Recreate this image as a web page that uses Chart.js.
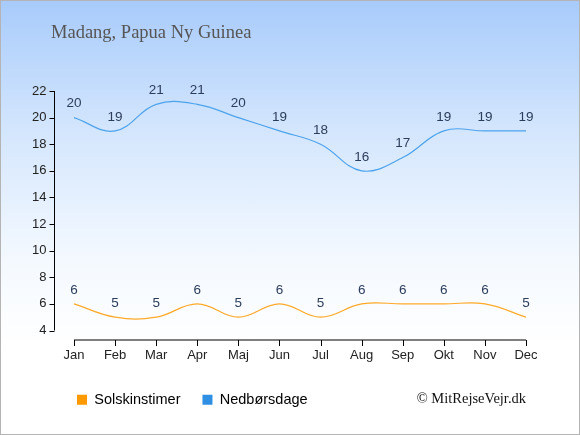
<!DOCTYPE html>
<html>
<head>
<meta charset="utf-8">
<script src="https://cdn.jsdelivr.net/npm/chart.js@4.4.1/dist/chart.umd.min.js"></script>
<style>
  html, body { margin: 0; padding: 0; }
  #wrap {
    position: relative;
    width: 578px;
    height: 433px;
    border: 1px solid #b4b4b4;
    background: linear-gradient(to bottom, #a8cbfb 0%, #d4e6fd 30%, #f4f9ff 60%, #ffffff 80%, #ffffff 100%);
  }
</style>
</head>
<body>
<div id="wrap"><canvas id="chart" width="578" height="433"></canvas></div>
<script>
const chartTitle = 'Madang, Papua Ny Guinea';
const months = ['Jan', 'Feb', 'Mar', 'Apr', 'Maj', 'Jun', 'Jul', 'Aug', 'Sep', 'Okt', 'Nov', 'Dec'];
const sunHours = [6, 5, 5, 6, 5, 6, 5, 6, 6, 6, 6, 5];
const rainDays = [20, 19, 21, 21, 20, 19, 18, 16, 17, 19, 19, 19];
const yTicks = [4, 6, 8, 10, 12, 14, 16, 18, 20, 22];
const copyright = '\u00a9 MitRejseVejr.dk';

const sansFont = '"Liberation Sans", Arial, sans-serif';
const serifFont = '"Liberation Serif", "Times New Roman", serif';

// axes are drawn by hand so they can sit apart from the plot, like the original
const axesPlugin = {
    id: 'axesPlugin',
    afterDraw(chart) {
        const ctx = chart.ctx;
        const area = chart.chartArea;
        const x = chart.scales.x;
        const y = chart.scales.y;
        const yLineX = area.left - 19.5;
        const xLineY = area.bottom + 9.5;
        ctx.save();
        ctx.strokeStyle = '#000';
        ctx.lineWidth = 1;
        ctx.beginPath();
        ctx.moveTo(yLineX, y.getPixelForValue(22));
        ctx.lineTo(yLineX, y.getPixelForValue(4));
        yTicks.forEach(v => {
            const py = Math.round(y.getPixelForValue(v)) + 0.5;
            ctx.moveTo(yLineX - 5, py);
            ctx.lineTo(yLineX, py);
        });
        ctx.moveTo(x.getPixelForValue(0), xLineY);
        ctx.lineTo(x.getPixelForValue(months.length - 1), xLineY);
        months.forEach((m, i) => {
            const px = Math.round(x.getPixelForValue(i)) + 0.5;
            ctx.moveTo(px, xLineY);
            ctx.lineTo(px, xLineY + 6);
        });
        ctx.stroke();

        // y tick labels
        ctx.fillStyle = '#222';
        ctx.font = '13px ' + sansFont;
        ctx.textAlign = 'right';
        ctx.textBaseline = 'middle';
        yTicks.forEach(v => {
            ctx.fillText(v, yLineX - 8, y.getPixelForValue(v));
        });

        // values above each point
        ctx.fillStyle = '#2c3d5b';
        ctx.font = '13.5px ' + sansFont;
        ctx.textAlign = 'center';
        chart.data.datasets.forEach((ds, di) => {
            chart.getDatasetMeta(di).data.forEach((pt, i) => {
                ctx.fillText(ds.data[i], pt.x, pt.y - 14);
            });
        });

        // title and copyright
        ctx.fillStyle = '#555555';
        ctx.font = '18.5px ' + serifFont;
        ctx.textAlign = 'left';
        ctx.fillText(chartTitle, 50, 32);
        ctx.fillStyle = '#111';
        ctx.font = '14.5px ' + serifFont;
        ctx.textAlign = 'right';
        ctx.fillText(copyright, 525, 398);
        ctx.restore();
    }
};

const ctx = document.getElementById('chart').getContext('2d');
const myChart = new Chart(ctx, {
    type: 'line',
    data: {
        labels: months,
        datasets: [{
            label: 'Solskinstimer',
            data: sunHours,
            borderColor: '#ffa928',
            backgroundColor: '#ff9900',
            borderWidth: 1.2,
            pointRadius: 0,
            tension: 0.4,
            fill: false
        }, {
            label: 'Nedbørsdage',
            data: rainDays,
            borderColor: '#4ba3ec',
            backgroundColor: '#2f8fe2',
            borderWidth: 1.2,
            pointRadius: 0,
            tension: 0.4,
            fill: false
        }]
    },
    options: {
        responsive: false,
        animation: false,
        layout: {
            padding: { top: 90, left: 54, right: 53, bottom: 17 }
        },
        scales: {
            x: {
                offset: false,
                grid: { display: false, drawTicks: false },
                border: { display: false },
                ticks: {
                    padding: 17,
                    color: '#222',
                    font: { family: sansFont, size: 13 },
                    maxRotation: 0
                },
                afterFit: scale => { scale.height = 40; }
            },
            y: {
                min: 4,
                max: 22,
                grid: { display: false, drawTicks: false },
                border: { display: false },
                ticks: { display: false, stepSize: 2 },
                afterFit: scale => { scale.width = 19; }
            }
        },
        plugins: {
            legend: {
                position: 'bottom',
                align: 'start',
                labels: {
                    boxWidth: 10,
                    boxHeight: 10,
                    padding: 22,
                    color: '#222',
                    font: { family: sansFont, size: 14.5 },
                    generateLabels: chart => chart.data.datasets.map((ds, i) => ({
                        text: ds.label,
                        fillStyle: ds.backgroundColor,
                        strokeStyle: ds.backgroundColor,
                        lineWidth: 0,
                        datasetIndex: i
                    }))
                }
            },
            tooltip: { enabled: false }
        }
    },
    plugins: [axesPlugin]
});
</script>
</body>
</html>
